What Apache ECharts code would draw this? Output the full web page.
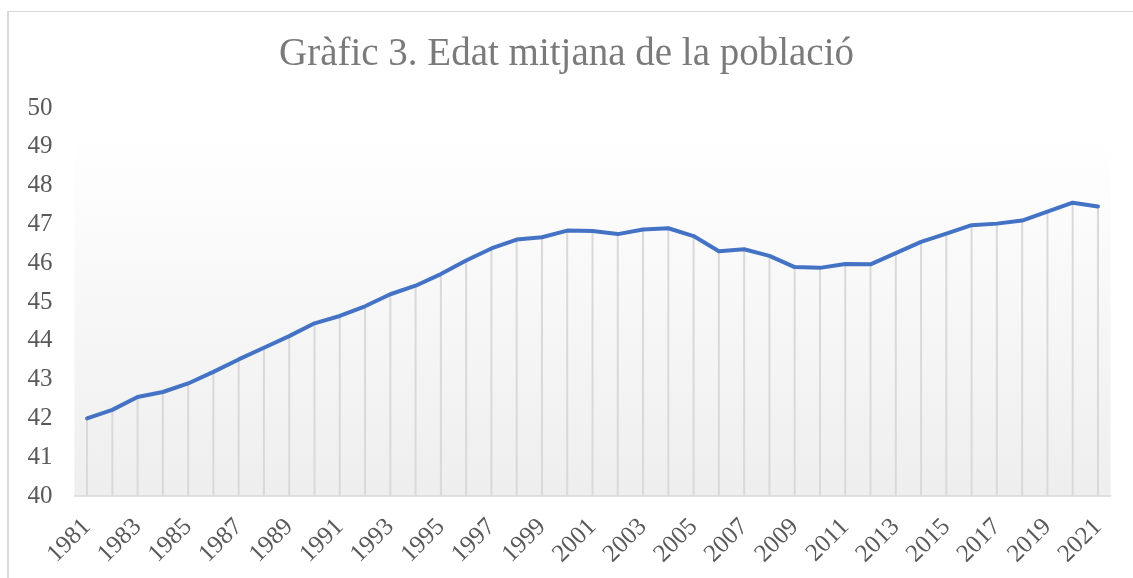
<!DOCTYPE html>
<html>
<head>
<meta charset="utf-8">
<script src="https://cdn.jsdelivr.net/npm/echarts@6/dist/echarts.min.js"></script>
<style>
  html, body { margin: 0; padding: 0; background: #fff; }
  #chart { width: 1133px; height: 578px; }
</style>
</head>
<body>
<div id="chart"></div>
<script>
// dades
const years = ['1981', '1982', '1983', '1984', '1985', '1986', '1987', '1988', '1989', '1990',
  '1991', '1992', '1993', '1994', '1995', '1996', '1997', '1998', '1999', '2000',
  '2001', '2002', '2003', '2004', '2005', '2006', '2007', '2008', '2009', '2010',
  '2011', '2012', '2013', '2014', '2015', '2016', '2017', '2018', '2019', '2020', '2021']
const edatMitjana = [42.0, 42.22, 42.55, 42.68, 42.9, 43.2, 43.52, 43.82, 44.12, 44.45,
  44.64, 44.89, 45.2, 45.42, 45.72, 46.07, 46.38, 46.61, 46.67, 46.84,
  46.83, 46.75, 46.87, 46.9, 46.7, 46.31, 46.36, 46.19, 45.9, 45.88,
  45.98, 45.97, 46.26, 46.55, 46.76, 46.98, 47.02, 47.1, 47.33, 47.56, 47.46]
const titol = 'Gràfic 3. Edat mitjana de la població'

const font = '"Liberation Serif", "DejaVu Serif", serif'
const chart = echarts.init(document.getElementById('chart'))

const option = {
  animation: false,
  title: {
    text: titol,
    left: 'center',
    top: 30,
    textStyle: {
      fontFamily: font,
      fontSize: 39,
      fontWeight: 'normal',
      color: '#7a7a7a'
    }
  },
  // marc del gràfic
  graphic: [
    { type: 'line', shape: { x1: 8, y1: 11, x2: 8, y2: 578 }, style: { stroke: '#d9d9d9', lineWidth: 2 } },
    { type: 'line', shape: { x1: 8, y1: 11.5, x2: 1133, y2: 11.5 }, style: { stroke: '#d9d9d9', lineWidth: 1 } }
  ],
  grid: {
    left: 74.4,
    right: 22.4,
    top: 108,
    bottom: 82,
    show: true,
    borderWidth: 0,
    backgroundColor: new echarts.graphic.LinearGradient(0, 0, 0, 1, [
      { offset: 0, color: '#ffffff' },
      { offset: 0.13, color: '#fefefe' },
      { offset: 1, color: '#eeeeee' }
    ])
  },
  xAxis: {
    type: 'category',
    data: years,
    boundaryGap: true,
    axisLine: { show: true, lineStyle: { color: '#d9d9d9', width: 1.5 } },
    axisTick: { show: false },
    axisLabel: {
      interval: 1,
      rotate: 45,
      margin: 27,
      fontFamily: font,
      fontSize: 25,
      color: '#595959'
    }
  },
  yAxis: {
    type: 'value',
    min: 40,
    max: 50,
    interval: 1,
    axisLine: { show: false },
    axisTick: { show: false },
    splitLine: { show: false },
    axisLabel: {
      margin: 22,
      fontFamily: font,
      fontSize: 25,
      color: '#595959'
    }
  },
  series: [
    {
      // línies verticals fins a l'eix
      type: 'bar',
      data: edatMitjana,
      barWidth: 2,
      itemStyle: { color: '#d9d9d9' },
      silent: true,
      z: 1
    },
    {
      name: 'Edat mitjana',
      type: 'line',
      data: edatMitjana,
      showSymbol: false,
      smooth: false,
      lineStyle: { color: '#4472c4', width: 4, cap: 'round', join: 'round' },
      z: 3
    }
  ]
}

chart.setOption(option)
</script>
</body>
</html>
